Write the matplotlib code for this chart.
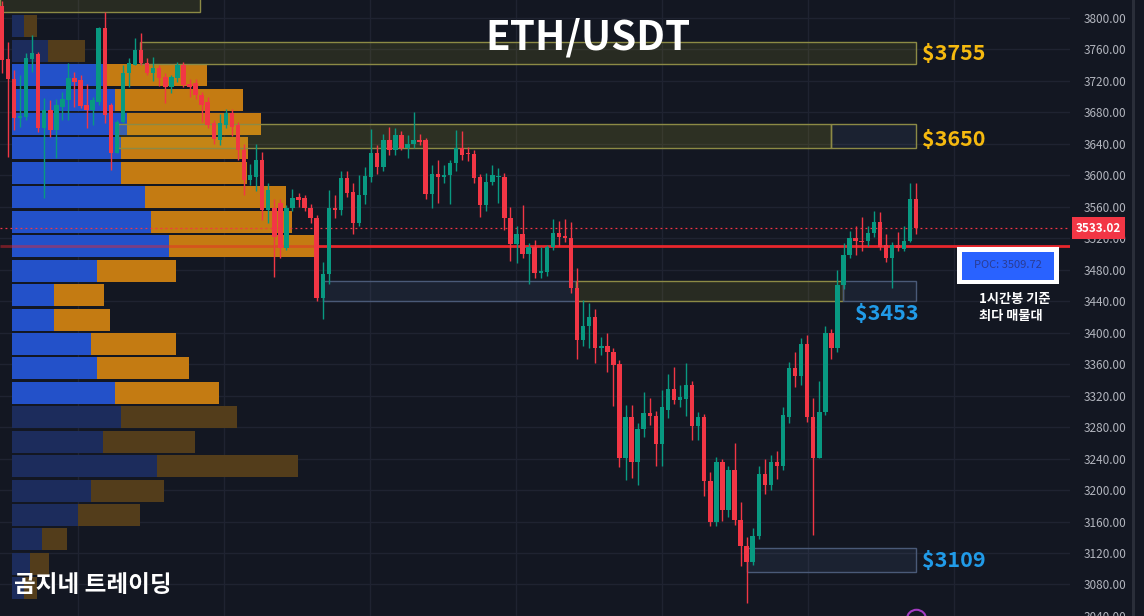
import numpy as np
import matplotlib
matplotlib.use('Agg')
import matplotlib.pyplot as plt
from matplotlib.patches import Rectangle
from matplotlib.transforms import blended_transform_factory

plt.rcParams['font.family'] = ['Noto Sans CJK KR', 'DejaVu Sans']

# 1h candles
opens = [3815, 3748, 3722, 3673, 3674, 3748, 3754, 3660, 3683, 3658,
         3687, 3696, 3724, 3721, 3689, 3683, 3693, 3787, 3689, 3629,
         3668, 3730, 3740, 3759, 3743, 3730, 3736, 3725, 3712, 3724,
         3740, 3716, 3717, 3702, 3693, 3667, 3645, 3664, 3679, 3664,
         3632, 3594, 3598, 3619, 3556, 3559, 3565, 3508, 3559, 3573,
         3571, 3559, 3546, 3444, 3474, 3558, 3556, 3597, 3579, 3540,
         3575, 3598, 3629, 3611, 3645, 3632, 3651, 3635, 3640, 3645,
         3645, 3576, 3602, 3598, 3600, 3616, 3635, 3628, 3627, 3598,
         3562, 3592, 3598, 3598, 3546, 3513, 3525, 3500, 3509, 3476,
         3477, 3509, 3527, 3523, 3520, 3457, 3391, 3408, 3420, 3380,
         3383, 3376, 3360, 3241, 3293, 3236, 3277, 3298, 3294, 3259,
         3302, 3329, 3314, 3316, 3334, 3281, 3293, 3211, 3159, 3236,
         3175, 3225, 3162, 3129, 3109, 3141, 3220, 3207, 3236, 3231,
         3293, 3355, 3345, 3386, 3293, 3241, 3299, 3400, 3380, 3461,
         3499, 3521, 3517, 3516, 3527, 3541, 3511, 3495, 3511, 3507,
         3517, 3570]
highs = [3822, 3769, 3734, 3727, 3755, 3778, 3757, 3698, 3696, 3697,
         3706, 3743, 3731, 3728, 3716, 3700, 3789, 3808, 3692, 3670,
         3740, 3749, 3775, 3781, 3749, 3750, 3740, 3730, 3727, 3744,
         3744, 3722, 3722, 3706, 3700, 3670, 3678, 3684, 3684, 3668,
         3640, 3615, 3640, 3630, 3590, 3570, 3570, 3562, 3583, 3578,
         3575, 3564, 3550, 3490, 3581, 3575, 3606, 3606, 3590, 3600,
         3610, 3659, 3638, 3653, 3662, 3660, 3657, 3651, 3680, 3652,
         3648, 3613, 3620, 3613, 3620, 3658, 3657, 3636, 3632, 3602,
         3603, 3613, 3609, 3603, 3560, 3535, 3562, 3514, 3518, 3509,
         3512, 3545, 3542, 3545, 3541, 3482, 3441, 3438, 3430, 3395,
         3400, 3380, 3365, 3308, 3308, 3285, 3324, 3317, 3300, 3327,
         3348, 3357, 3333, 3362, 3338, 3299, 3297, 3223, 3242, 3240,
         3230, 3260, 3185, 3140, 3152, 3230, 3240, 3245, 3249, 3305,
         3363, 3376, 3393, 3397, 3317, 3339, 3408, 3405, 3480, 3514,
         3529, 3536, 3547, 3535, 3555, 3554, 3526, 3515, 3528, 3535,
         3590, 3590]
lows = [3730, 3623, 3658, 3661, 3671, 3731, 3655, 3571, 3649, 3622,
        3670, 3670, 3687, 3686, 3660, 3664, 3689, 3667, 3607, 3628,
        3666, 3712, 3740, 3740, 3727, 3720, 3714, 3692, 3705, 3719,
        3712, 3700, 3697, 3668, 3660, 3640, 3638, 3660, 3650, 3620,
        3575, 3588, 3580, 3543, 3540, 3471, 3495, 3505, 3555, 3560,
        3555, 3540, 3440, 3417, 3462, 3546, 3550, 3572, 3525, 3535,
        3564, 3592, 3602, 3606, 3626, 3626, 3632, 3622, 3635, 3638,
        3570, 3559, 3565, 3590, 3563, 3605, 3620, 3618, 3590, 3547,
        3555, 3588, 3565, 3530, 3491, 3488, 3495, 3462, 3470, 3470,
        3472, 3505, 3510, 3515, 3451, 3366, 3383, 3380, 3362, 3372,
        3350, 3307, 3229, 3213, 3215, 3207, 3267, 3283, 3231, 3231,
        3291, 3310, 3305, 3294, 3264, 3263, 3193, 3154, 3154, 3161,
        3166, 3156, 3103, 3057, 3105, 3138, 3195, 3200, 3214, 3225,
        3285, 3331, 3334, 3286, 3143, 3241, 3295, 3366, 3375, 3455,
        3495, 3499, 3504, 3510, 3522, 3505, 3490, 3457, 3504, 3504,
        3515, 3525]
closes = [3747, 3722, 3673, 3675, 3749, 3755, 3660, 3683, 3658, 3690,
          3697, 3724, 3719, 3688, 3683, 3696, 3787, 3677, 3629, 3668,
          3730, 3743, 3759, 3743, 3730, 3736, 3724, 3712, 3725, 3740,
          3715, 3712, 3702, 3689, 3664, 3646, 3667, 3679, 3661, 3632,
          3594, 3600, 3619, 3556, 3581, 3522, 3508, 3559, 3571, 3569,
          3559, 3546, 3444, 3474, 3559, 3556, 3597, 3578, 3540, 3575,
          3599, 3629, 3611, 3645, 3632, 3651, 3635, 3640, 3645, 3643,
          3576, 3602, 3598, 3601, 3616, 3635, 3626, 3627, 3597, 3562,
          3592, 3600, 3599, 3546, 3513, 3525, 3500, 3509, 3476, 3479,
          3509, 3527, 3522, 3520, 3457, 3391, 3408, 3420, 3380, 3383,
          3375, 3359, 3241, 3293, 3236, 3277, 3298, 3294, 3259, 3305,
          3329, 3314, 3318, 3334, 3281, 3293, 3211, 3159, 3236, 3175,
          3225, 3162, 3129, 3109, 3142, 3220, 3207, 3236, 3231, 3295,
          3355, 3345, 3386, 3293, 3241, 3299, 3400, 3380, 3461, 3499,
          3521, 3516, 3515, 3527, 3541, 3509, 3495, 3511, 3508, 3517,
          3570, 3533.02]

# volume profile (top bin first), buy / sell volume
vp_top = 3805.0
vp_step = 31.06
vp_buy = [1.2, 3.6, 9.4, 10.3, 11.5, 10.9, 10.9, 13.3, 13.9, 15.7, 8.5, 4.2,
          4.2, 7.9, 8.5, 10.3, 10.9, 9.1, 14.5, 7.9, 6.6, 3.0, 1.8, 1.2]
vp_sell = [1.3, 3.7, 10.1, 12.8, 13.4, 12.7, 12.6, 14.1, 14.1, 14.6, 7.9, 5.0,
           5.6, 8.5, 9.2, 10.4, 11.6, 9.2, 14.1, 7.3, 6.2, 2.5, 1.9, 1.3]
value_area = (2, 15)   # first / last bin inside the value area

poc = 3509.72
last = closes[-1]

BG = '#131722'
GREEN = '#089981'
RED = '#f23645'
YEL_EDGE = '#8c8a45'
BLU_EDGE = '#4a5a78'
YEL_FACE = (0.78, 0.75, 0.16, 0.12)
BLU_FACE = (0.40, 0.52, 0.72, 0.10)

xlim = (-0.3, 176.4)
ylim = (3039.9, 3822.9)
rect = [0, 0, 1070 / 1144, 1]

fig = plt.figure(figsize=(11.44, 6.16), dpi=100, facecolor=BG)

# background + grid
ax_bg = fig.add_axes(rect)
ax_bg.set_facecolor(BG)
ax_bg.set_xlim(xlim)
ax_bg.set_ylim(ylim)
ax_bg.set_xticks(np.arange(12.6, xlim[1], 24.1))
ax_bg.set_yticks(np.arange(3040, 3801, 40))
ax_bg.grid(True, color='#1f2331', linewidth=1)
ax_bg.tick_params(length=0, labelleft=False, labelbottom=False)
for s in ax_bg.spines.values():
    s.set_visible(False)

# volume profile
ax_vp = fig.add_axes(rect)
ax_vp.set_facecolor('none')
ax_vp.set_xlim(-1.2, 105.8)
ax_vp.set_ylim(ylim)
ax_vp.axis('off')
centers = [vp_top - vp_step * (i + 0.5) for i in range(len(vp_buy))]
in_va = [value_area[0] <= i <= value_area[1] for i in range(len(vp_buy))]
blue_c = ['#2351c9' if v else '#1c2c5c' for v in in_va]
orng_c = ['#c47b12' if v else '#533d1b' for v in in_va]
ax_vp.barh(centers, vp_buy, height=28, color=blue_c, linewidth=0)
ax_vp.barh(centers, vp_sell, left=vp_buy, height=28, color=orng_c, linewidth=0)

# main chart
ax = fig.add_axes(rect)
ax.set_facecolor('none')
ax.set_xlim(xlim)
ax.set_ylim(ylim)
for s in ax.spines.values():
    s.set_visible(False)


def zone(x0, x1, lo, hi, edge, face):
    ax.add_patch(Rectangle((x0, lo), x1 - x0, hi - lo, facecolor=face,
                           edgecolor=edge, linewidth=1, zorder=2))


zone(-0.3, 32.7, 3807.6, 3850, YEL_EDGE, YEL_FACE)
zone(22.8, 151, 3741.6, 3769.5, YEL_EDGE, YEL_FACE)
zone(19.2, 137, 3635, 3665.4, YEL_EDGE, (0.78, 0.75, 0.16, 0.15))
zone(137, 151, 3635, 3665.4, YEL_EDGE, BLU_FACE)
zone(53.1, 94.8, 3440.6, 3466, BLU_EDGE, BLU_FACE)
zone(94.8, 138.9, 3440.6, 3466, YEL_EDGE, YEL_FACE)
zone(138.9, 151, 3440.6, 3466, BLU_EDGE, BLU_FACE)
zone(123.1, 151, 3095.2, 3125.7, BLU_EDGE, BLU_FACE)

# POC + last price lines
ax.hlines(poc, xlim[0], 51.7, color='#e8262c', linewidth=2, alpha=0.45, zorder=2)
ax.hlines(poc, 51.7, xlim[1], color='#e8262c', linewidth=2, zorder=2)
ax.axhline(last, color=RED, linewidth=0.9, linestyle=(0, (1.5, 2.5)), zorder=2)

# candles
o = np.array(opens, float)
h = np.array(highs, float)
l = np.array(lows, float)
c = np.array(closes, float)
x = np.arange(len(c))
cols = np.where(c >= o, GREEN, RED)
ax.vlines(x, l, h, colors=cols, linewidth=1, zorder=3)
ax.bar(x, np.maximum(np.abs(c - o), 1.5), bottom=np.minimum(o, c), width=0.74,
       color=cols, linewidth=0, zorder=4)

# level labels
ax.text(152.0, 3755, '$3755', color='#f5b90f', fontsize=15.5, fontweight='bold',
        ha='left', va='center', zorder=6)
ax.text(152.0, 3645, '$3650', color='#f5b90f', fontsize=15.5, fontweight='bold',
        ha='left', va='center', zorder=6)
ax.text(146.1, 3424, '$3453', color='#219be8', fontsize=15.5, fontweight='bold',
        ha='center', va='center', zorder=6)
ax.text(152.0, 3111, '$3109', color='#219be8', fontsize=15.5, fontweight='bold',
        ha='left', va='center', zorder=6)

# POC callout
ax.add_patch(Rectangle((157.8, 3462.2), 16.8, 47.0, facecolor='white',
                       edgecolor='none', zorder=6))
ax.add_patch(Rectangle((158.6, 3467.3), 15.2, 35.6, facecolor='#2962ff',
                       edgecolor='none', zorder=7))
ax.text(166.2, 3485.5, f'POC: {poc:.2f}', color='#2a3c94', fontsize=8,
        ha='center', va='center', zorder=8)
ax.text(161.4, 3432, '1시간봉 기준\n최다 매물대', color='white', fontsize=9.5,
        fontweight='bold', ha='left', va='center', linespacing=1.3, zorder=8)

ax.plot(151, 3036, 'o', ms=14, mfc='none', mec='#a33bc2', mew=1.5, zorder=5)

# title and watermark
ax.text(0.5495, 0.938, 'ETH/USDT', transform=ax.transAxes, color='white',
        fontsize=29, fontweight='bold', ha='center', va='center', zorder=8)
ax.text(0.0131, 0.0503, '곰지네 트레이딩', transform=ax.transAxes, color='white',
        fontsize=17, fontweight='bold', ha='left', va='center', zorder=8)

# price axis
ax.set_xticks([])
ax.yaxis.tick_right()
ticks = np.arange(3040, 3801, 40)
ax.set_yticks(ticks)
ax.set_yticklabels([f'{t:.2f}' for t in ticks])
ax.tick_params(axis='y', colors='#b2b5be', labelsize=8.5, length=0, pad=10)
tr = blended_transform_factory(ax.transAxes, ax.transData)
ax.text(1.0055, last, f'{last:.2f}', transform=tr, color='white', fontsize=8.5,
        fontweight='bold', ha='left', va='center', clip_on=False, zorder=10,
        bbox=dict(boxstyle='square,pad=0.35', fc=RED, ec='none'))

fig.add_artist(Rectangle((1132 / 1144, 0), 3 / 1144, 1, transform=fig.transFigure,
                         facecolor='#2a2e39', edgecolor='none'))

fig.savefig('out.png', dpi=100, facecolor=BG)
